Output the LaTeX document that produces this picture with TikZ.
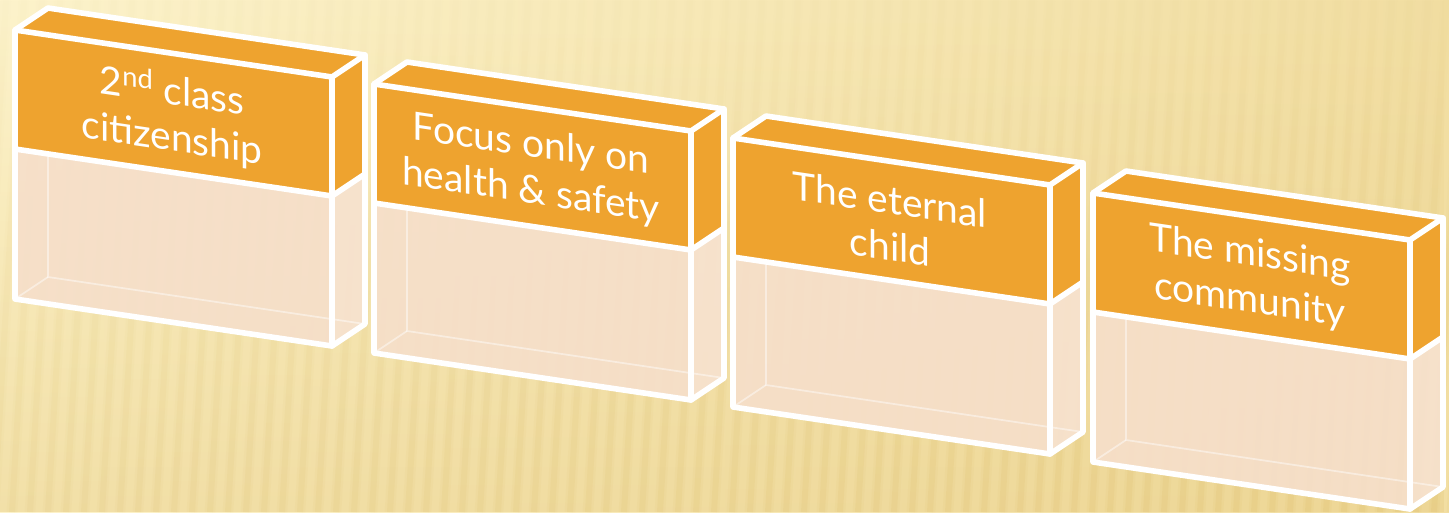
\documentclass[tikz,border=0pt]{standalone}
\usepackage{fontspec}
\setmainfont{Lato}
\usetikzlibrary{fadings}
\definecolor{bandorange}{HTML}{EEA32F}
\definecolor{lowfill}{HTML}{F6DFCA}
\definecolor{lowside}{HTML}{F7E2CF}
\definecolor{bgA}{HTML}{FDF3CB}
\definecolor{bgB}{HTML}{F2DEA2}
\definecolor{bgC}{HTML}{EAD18C}
\definecolor{stripec}{HTML}{DDBF6C}
\tikzfading[name=stripefade, top color=transparent!95, bottom color=transparent!40]
\tikzfading[name=bgfade, top color=transparent!100, bottom color=transparent!45]
\tikzset{
  wline/.style={draw=white, line width=4.2pt, line join=round, line cap=round},
  faintline/.style={draw=white, opacity=0.45, line width=1.3pt},
  boxlabel/.style={text=white, font=\fontsize{29.2pt}{35pt}\selectfont, align=center, yslant=-0.148, inner sep=0pt},
  stripe/.style={draw=stripec, path fading=stripefade},
}
\newcommand\cuboid[4]{%
\begin{scope}[shift={(#1,-#2)}]
  \fill[lowside, opacity=0.92] (317,-166) -- (350,-144) -- (350,-294) -- (317,-316) -- cycle;
  \fill[lowfill, opacity=0.92] (0,-119) -- (317,-166) -- (317,-316) -- (0,-269) -- cycle;
  \draw[faintline] (33,-125) -- (33,-247) -- (350,-294);
  \draw[faintline] (0,-269) -- (33,-247);
  \fill[bandorange] (0,0) -- (33,22) -- (350,-25) -- (350,-144) -- (317,-166) -- (0,-119) -- cycle;
  \draw[wline] (0,0) -- (33,22) -- (350,-25) -- (350,-294) -- (317,-316) -- (0,-269) -- cycle;
  \draw[wline] (0,0) -- (317,-47) -- (350,-25);
  \draw[wline] (317,-47) -- (317,-316);
  \draw[wline] (0,-119) -- (317,-166) -- (350,-144);
  \node[boxlabel] (#3) at (157,-85) {#4};
\end{scope}}
\begin{document}
\begin{tikzpicture}[x=0.75pt,y=0.75pt]
\useasboundingbox (0,0) rectangle (1449,-512);
\shade[left color=bgA, right color=bgB] (0,0) rectangle (1449,-512);
\fill[bgC, path fading=bgfade] (0,0) rectangle (1449,-512);
\begin{scope}
  \clip (0,0) rectangle (1449,-512);
  \foreach \i in {-60,-42,...,1460}{
    \pgfmathsetmacro\op{0.28+0.32*(\i+60)/1520}
    \draw[stripe, line width=8pt, opacity=0.35*\op] (\i,-512) -- (\i+30,0);
    \draw[stripe, line width=4.5pt, opacity=0.6*\op] (\i,-512) -- (\i+30,0);
  }
\end{scope}
\cuboid{15}{30}{t1}{2\textsuperscript{nd} class\\citizenship}
\cuboid{374}{84}{t2}{Focus only on\\health \& safety}
\cuboid{733}{138}{t3}{The eternal\\child}
\cuboid{1093}{193}{t4}{The missing\\community}
\end{tikzpicture}
\end{document}
